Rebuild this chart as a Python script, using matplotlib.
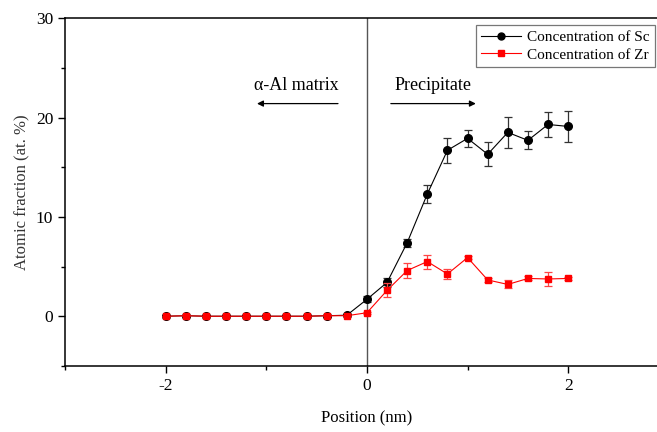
import matplotlib.pyplot as plt
from matplotlib.ticker import MultipleLocator
from matplotlib.lines import Line2D

position = [-2.0, -1.8, -1.6, -1.4, -1.2, -1.0, -0.8, -0.6, -0.4, -0.2,
            0.0, 0.2, 0.4, 0.6, 0.8, 1.0, 1.2, 1.4, 1.6, 1.8, 2.0]
sc = [0.0, 0.05, 0.0, 0.0, 0.0, 0.0, 0.0, 0.0, 0.05, 0.1,
      1.7, 3.4, 7.4, 12.3, 16.7, 17.9, 16.3, 18.5, 17.7, 19.3, 19.1]
sc_err = [0.05, 0.05, 0.05, 0.05, 0.05, 0.05, 0.05, 0.05, 0.05, 0.1,
          0.3, 0.45, 0.4, 0.95, 1.25, 0.85, 1.2, 1.55, 0.9, 1.3, 1.6]
zr = [0.0, 0.05, 0.0, 0.0, 0.0, 0.0, 0.0, 0.0, 0.05, 0.05,
      0.35, 2.6, 4.6, 5.5, 4.25, 5.9, 3.65, 3.2, 3.8, 3.75, 3.8]
zr_err = [0.05, 0.05, 0.05, 0.05, 0.05, 0.05, 0.05, 0.05, 0.05, 0.05,
          0.1, 0.7, 0.75, 0.7, 0.55, 0.15, 0.2, 0.4, 0.2, 0.7, 0.15]

plt.rcParams['font.family'] = ['Liberation Serif', 'DejaVu Serif']
plt.rcParams['axes.unicode_minus'] = False

fig = plt.figure(figsize=(6.57, 4.32), dpi=100)
ax = fig.add_axes([0.099, 0.153, 0.919, 0.805])

ax.axvline(0, color='#555555', lw=1.0, zorder=1)

ax.errorbar(position, sc, yerr=sc_err, color='black', ecolor='#333333',
            lw=0.8, marker='o', ms=5.5, capsize=3, elinewidth=0.9,
            capthick=0.9, zorder=3)
ax.errorbar(position, zr, yerr=zr_err, color='red', ecolor='#ff4444',
            lw=0.8, marker='s', ms=5, capsize=3, elinewidth=0.9,
            capthick=0.9, zorder=4)

ax.set_xlim(-3, 3)
ax.set_ylim(-5, 30)
ax.xaxis.set_major_locator(MultipleLocator(2))
ax.xaxis.set_minor_locator(MultipleLocator(1))
ax.yaxis.set_major_locator(MultipleLocator(10))
ax.yaxis.set_minor_locator(MultipleLocator(5))
ax.tick_params(which='major', direction='out', length=5, width=1, labelsize=12.5)
ax.tick_params(which='minor', direction='out', length=3, width=1)
ax.tick_params(top=False, right=False)
for s in ax.spines.values():
    s.set_linewidth(1.1)
ax.spines['right'].set_visible(False)

ax.set_xlabel('Position (nm)', fontsize=12, labelpad=12)
ax.set_ylabel('Atomic fraction (at. %)', fontsize=12, color='#333333')

ax.text(-0.7, 22.4, 'α-Al matrix', fontsize=13, ha='center', va='bottom')
ax.annotate('', xy=(-1.12, 21.4), xytext=(-0.26, 21.4),
            arrowprops=dict(arrowstyle='-|>', color='black', lw=0.9,
                            mutation_scale=9))
ax.text(0.66, 22.4, 'Precipitate', fontsize=13, ha='center', va='bottom')
ax.annotate('', xy=(1.11, 21.4), xytext=(0.21, 21.4),
            arrowprops=dict(arrowstyle='-|>', color='black', lw=0.9,
                            mutation_scale=9))

handles = [Line2D([], [], color='black', lw=0.8, marker='o', ms=5),
           Line2D([], [], color='red', lw=0.8, marker='s', ms=5)]
labels = ['Concentration of Sc', 'Concentration of Zr']
leg = ax.legend(handles, labels, loc='upper right',
                bbox_to_anchor=(655 / 657, 1 - 25 / 432),
                bbox_transform=fig.transFigure, fontsize=11, frameon=True,
                fancybox=False, edgecolor='#555555', borderpad=0.35,
                handlelength=2.6, handletextpad=0.4, labelspacing=0.25,
                borderaxespad=0)
leg.get_frame().set_linewidth(0.9)

fig.savefig('out.png', dpi=100)
